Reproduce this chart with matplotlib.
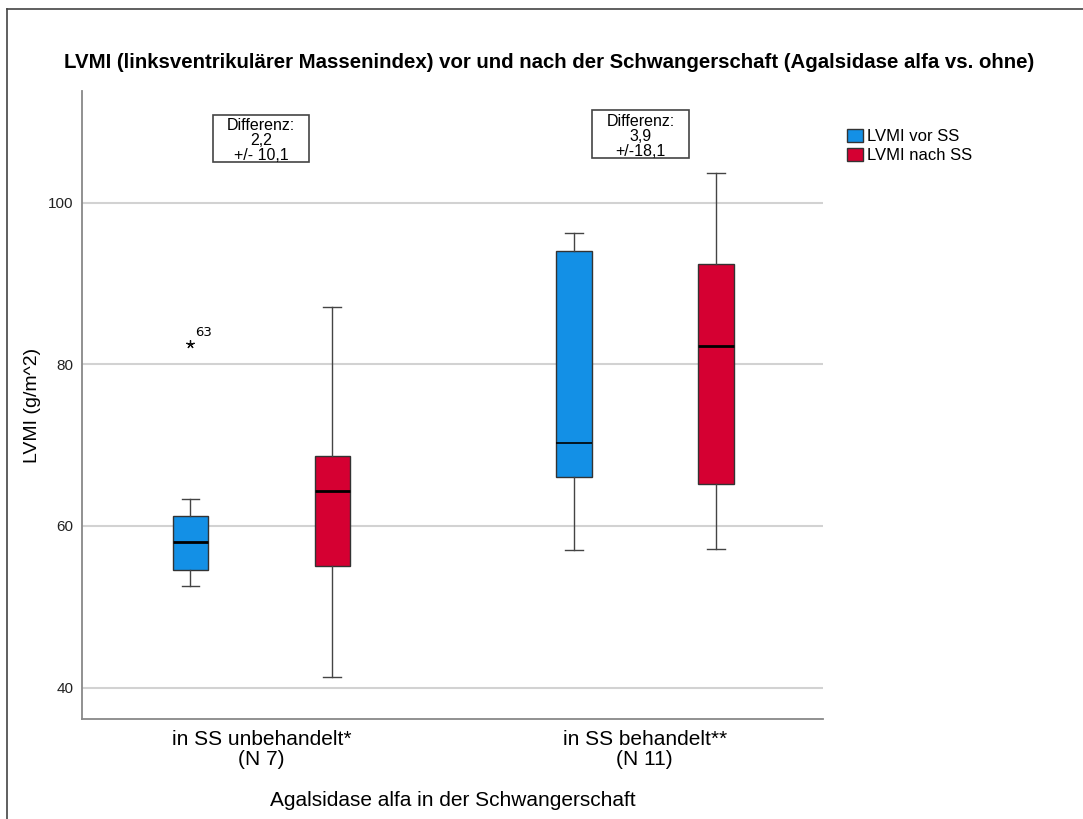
import matplotlib
matplotlib.use("Agg")
import matplotlib.pyplot as plt
import matplotlib.patches as patches
from matplotlib.lines import Line2D

# Gruppen und Kennwerte der Boxplots (g/m^2)
groups = ["in SS unbehandelt*\n(N 7)", "in SS behandelt**\n(N 11)"]
series = ["LVMI vor SS", "LVMI nach SS"]
colors = ["#1390E6", "#D50032"]

# je Gruppe: [vor SS, nach SS]
whislo = [[52.6, 41.3], [57.0, 57.2]]
q1 = [[54.5, 55.1], [66.0, 65.2]]
med = [[58.0, 64.3], [70.3, 82.2]]
q3 = [[61.2, 68.7], [94.0, 92.4]]
whishi = [[63.3, 87.1], [96.2, 103.7]]
outliers = [[[82.5], []], [[], []]]
outlier_ids = [[["63"], []], [[], []]]

diff_mean = ["2,2", "3,9"]
diff_sd = ["10,1", "18,1"]

yticks = [40, 60, 80, 100]

fig = plt.figure(figsize=(10.83, 8.19), dpi=100)
ax = fig.add_axes([0.0757, 0.1221, 0.6843, 0.7668])

offset = 0.185
width = 0.093
stats, positions, facecols = [], [], []
for g in range(len(groups)):
    for s in range(len(series)):
        stats.append(dict(whislo=whislo[g][s], q1=q1[g][s], med=med[g][s],
                          q3=q3[g][s], whishi=whishi[g][s], fliers=outliers[g][s]))
        positions.append(g + (s - 0.5) * 2 * offset)
        facecols.append(colors[s])

bp = ax.bxp(stats, positions=positions, widths=width, patch_artist=True,
            boxprops=dict(edgecolor="#333333", linewidth=1.0),
            whiskerprops=dict(color="#444444", linewidth=1.0),
            capprops=dict(color="#444444", linewidth=1.0),
            medianprops=dict(color="black", linewidth=2.0),
            flierprops=dict(marker=(5, 2, 0), markersize=6, markeredgecolor="#111111",
                            markerfacecolor="#111111", markeredgewidth=0.9, linestyle="none"),
            zorder=3)
for box, c in zip(bp["boxes"], facecols):
    box.set_facecolor(c)
bp["medians"][2].set_linewidth(1.2)

# Fallnummern der Ausreisser
for g in range(len(groups)):
    for s in range(len(series)):
        for v, lab in zip(outliers[g][s], outlier_ids[g][s]):
            x = g + (s - 0.5) * 2 * offset
            ax.annotate(lab, (x, v), xytext=(3, 4), textcoords="offset points",
                        fontsize=9.5, family="DejaVu Sans", va="bottom", ha="left")

# Kästen mit der Differenz
box_pos = [(-0.127, 104.98, 0.251, 5.89), (0.863, 105.55, 0.253, 5.9)]
for (x0, y0, w, h), m, sd in zip(box_pos, diff_mean, diff_sd):
    ax.add_patch(patches.Rectangle((x0, y0), w, h, facecolor="white",
                                   edgecolor="#444444", linewidth=1.2, zorder=4))
    ax.text(x0 + w / 2, y0 + h / 2 - 0.3, f"Differenz:\n{m}\n+/-{' ' if m == '2,2' else ''}{sd}",
            ha="center", va="center", fontsize=11.5, family="Liberation Sans",
            linespacing=1.0, zorder=5)

ax.set_xlim(-0.468, 1.465)
ax.set_ylim(36.13, 113.8)
ax.set_yticks(yticks)
ax.set_xticks(range(len(groups)))
ax.set_xticklabels(groups, family="Liberation Sans", fontsize=15, linespacing=1.05)
ax.tick_params(axis="x", length=0, pad=8)
ax.tick_params(axis="y", length=0, pad=6, labelsize=11, labelcolor="#222222")
for lab in ax.get_yticklabels():
    lab.set_family("Liberation Sans")

ax.yaxis.grid(True, color="#d2d2d2", linewidth=1.5, zorder=0)
ax.set_axisbelow(True)
for side in ["top", "right"]:
    ax.spines[side].set_visible(False)
for side in ["left", "bottom"]:
    ax.spines[side].set_color("#888888")
    ax.spines[side].set_linewidth(1.3)

ax.set_ylabel("LVMI (g/m^2)", family="Liberation Sans", fontsize=14, labelpad=5)
ax.set_xlabel("Agalsidase alfa in der Schwangerschaft", family="Liberation Sans",
              fontsize=15, labelpad=16)

fig.text(0.507, 0.924,
         "LVMI (linksventrikulärer Massenindex) vor und nach der Schwangerschaft (Agalsidase alfa vs. ohne)",
         ha="center", va="center", fontsize=14.7, fontweight="bold", family="Liberation Sans")

handles = [patches.Patch(facecolor=c, edgecolor="#333333", linewidth=1.0) for c in colors]
fig.legend(handles, series, loc="upper left", bbox_to_anchor=(0.7818, 0.843),
           frameon=False, prop=dict(family="Liberation Sans", size=12),
           handlelength=1.0, handleheight=0.9, handletextpad=0.2, labelspacing=0.2,
           borderaxespad=0, borderpad=0)

# Rahmen links und oben
fig.add_artist(Line2D([0.0065, 0.0065], [0, 0.9887], transform=fig.transFigure,
                      color="#444444", linewidth=1.2))
fig.add_artist(Line2D([0.0065, 1.0], [0.9887, 0.9887], transform=fig.transFigure,
                      color="#444444", linewidth=1.2))

fig.savefig("out.png", dpi=100)
